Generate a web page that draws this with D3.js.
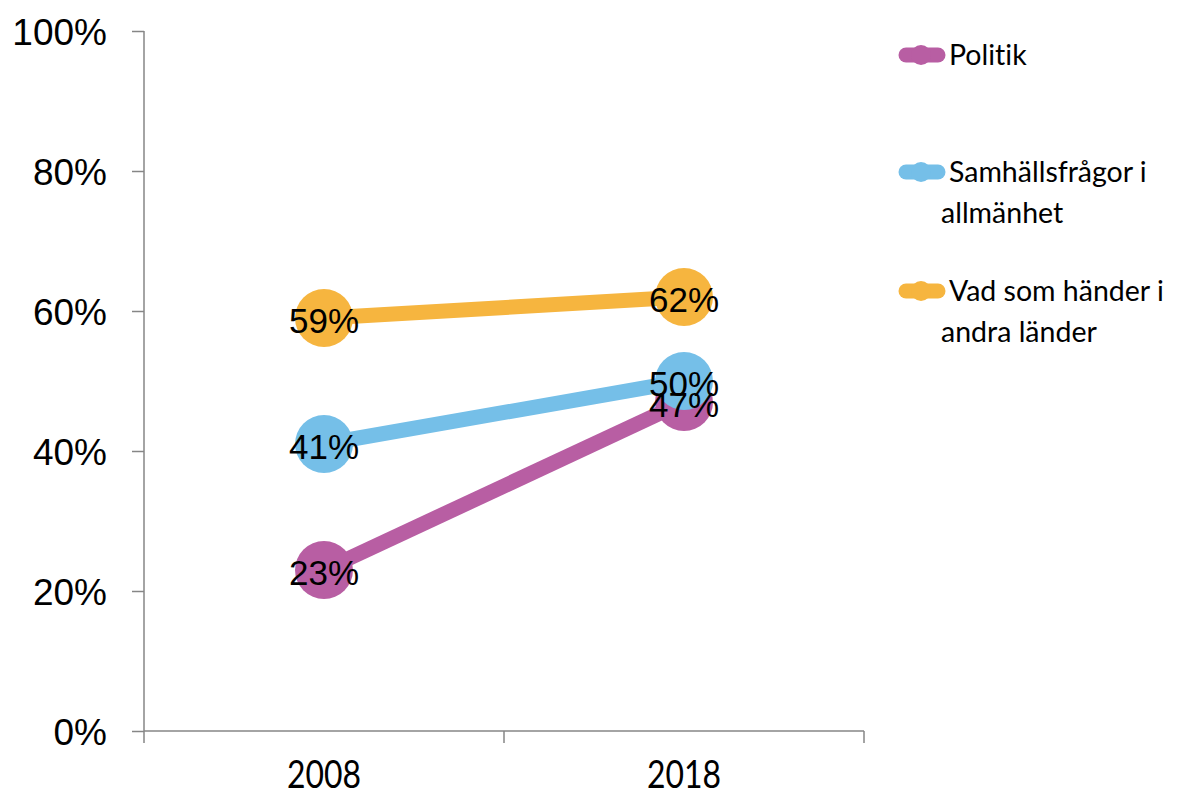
<!DOCTYPE html>
<html>
<head>
<meta charset="utf-8">
<script src="https://cdn.jsdelivr.net/npm/d3@7"></script>
<style>
  body { margin: 0; background: #fff; }
  svg { display: block; }
  text { font-variant-ligatures: none; }
</style>
</head>
<body>
<script>
// Data
var years = ["2008", "2018"];
var seriesNames = ["Politik", "Samhällsfrågor i allmänhet", "Vad som händer i andra länder"];
var legendLines = [["Politik"], ["Samhällsfrågor i", "allmänhet"], ["Vad som händer i", "andra länder"]];
var politik = [0.23, 0.47];
var samhalle = [0.41, 0.50];
var utland = [0.59, 0.62];
var yTicks = [0, 0.2, 0.4, 0.6, 0.8, 1.0];
var colors = ["#b85ea3", "#75bfe8", "#f6b53f"];

var allSeries = [politik, samhalle, utland];

var svg = d3.select("body").append("svg")
    .attr("width", 1192)
    .attr("height", 792);

// Scale
var x = d3.scaleBand().domain(years).range([144, 864]);
var y = d3.scaleLinear().domain([0, 1]).range([731, 31]);

// Asse y
var yAxis = svg.append("g")
    .attr("transform", "translate(144,0)")
    .call(d3.axisLeft(y).tickValues(yTicks).tickSize(12).tickPadding(25)
        .tickFormat(d3.format(".0%")));
yAxis.selectAll("path, line").attr("stroke", "#868686").attr("stroke-width", 1.5);
yAxis.select(".domain").attr("d", "M0," + y(1) + "V" + y(0));
yAxis.selectAll("text")
    .attr("font-family", "'Liberation Sans', Arial, sans-serif")
    .attr("font-size", 37)
    .attr("fill", "#000")
    .attr("dy", "0.36em");

// Asse x
var xAxis = svg.append("g");
xAxis.append("line")
    .attr("x1", x.range()[0]).attr("x2", x.range()[1])
    .attr("y1", y(0)).attr("y2", y(0))
    .attr("stroke", "#868686").attr("stroke-width", 1.5);
var bounds = years.map(d => x(d)).concat([x.range()[1]]);
xAxis.selectAll(".tk").data(bounds).enter().append("line")
    .attr("x1", d => d).attr("x2", d => d)
    .attr("y1", y(0)).attr("y2", y(0) + 12)
    .attr("stroke", "#868686").attr("stroke-width", 1.5);
xAxis.selectAll(".yl").data(years).enter().append("text")
    .attr("transform", d => "translate(" + (x(d) + x.bandwidth() / 2) + ",788) scale(0.84,1)")
    .attr("text-anchor", "middle")
    .attr("font-family", "Lato, 'Open Sans', sans-serif")
    .attr("font-size", 38)
    .attr("fill", "#000")
    .text(d => d);

var cx = i => x(years[i]) + x.bandwidth() / 2;

// Linee e marker
var line = d3.line().x((d, i) => cx(i)).y(d => y(d));
allSeries.forEach((s, k) => {
    var g = svg.append("g");
    g.append("path")
        .attr("d", line(s))
        .attr("fill", "none")
        .attr("stroke", colors[k])
        .attr("stroke-width", 15);
    g.selectAll("circle").data(s).enter().append("circle")
        .attr("cx", (d, i) => cx(i))
        .attr("cy", d => y(d))
        .attr("r", 29)
        .attr("fill", colors[k]);
});

// Etichette dati
allSeries.forEach((s, k) => {
    svg.append("g").selectAll("text").data(s).enter().append("text")
        .attr("x", (d, i) => cx(i))
        .attr("y", d => y(d) + 2)
        .attr("dy", "0.36em")
        .attr("text-anchor", "middle")
        .attr("font-family", "'Liberation Sans', Arial, sans-serif")
        .attr("font-size", 35)
        .attr("fill", "#000")
        .text(d => d3.format(".0%")(d));
});

// Legenda
var legendY = [55, 172, 291];
var leg = svg.append("g");
seriesNames.forEach((name, k) => {
    var g = leg.append("g").attr("transform", "translate(0," + legendY[k] + ")");
    g.append("line")
        .attr("x1", 906).attr("x2", 938)
        .attr("y1", 0).attr("y2", 0)
        .attr("stroke", colors[k]).attr("stroke-width", 15)
        .attr("stroke-linecap", "round");
    g.append("circle").attr("cx", 921).attr("cy", 0).attr("r", 10).attr("fill", colors[k]);
    legendLines[k].forEach((t, j) => {
        g.append("text")
            .attr("x", j === 0 ? 949 : 941)
            .attr("y", j * 41)
            .attr("dy", "0.35em")
            .attr("font-family", "Lato, 'Open Sans', sans-serif")
            .attr("font-size", 28.5)
            .attr("fill", "#000")
            .text(t);
    });
});
</script>
</body>
</html>
